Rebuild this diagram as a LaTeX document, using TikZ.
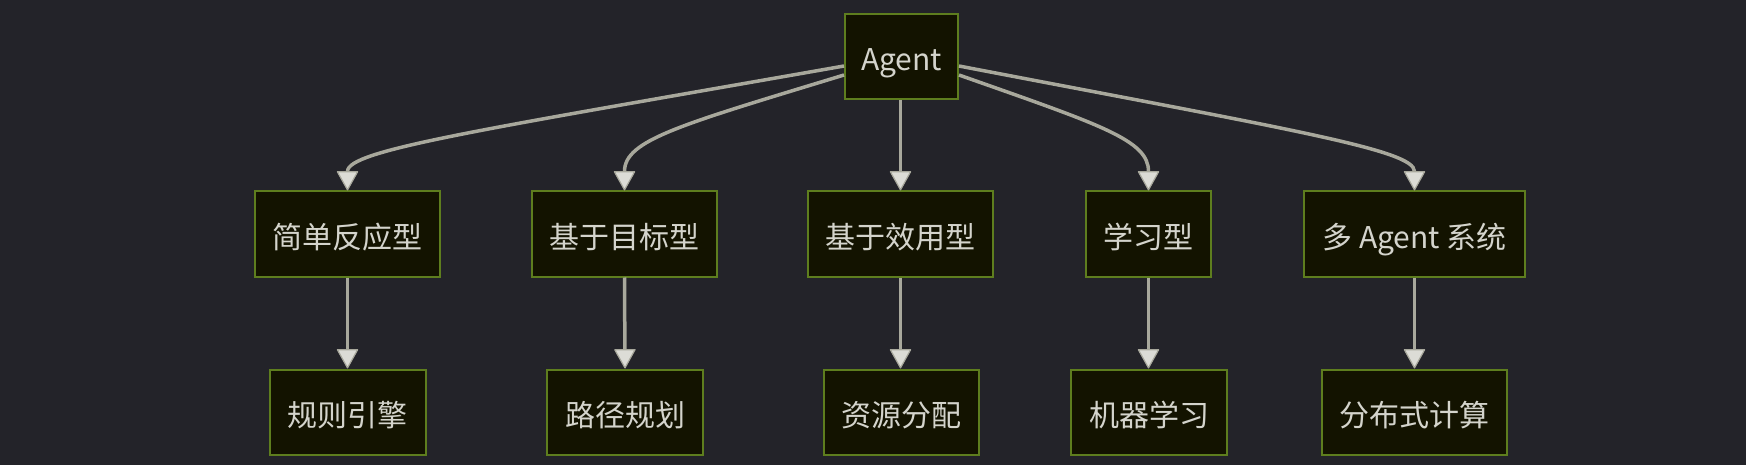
\documentclass[tikz,border=0pt]{standalone}
\usepackage{fontspec}
\setmainfont{Noto Sans CJK SC}
\usetikzlibrary{arrows.meta}
\definecolor{bgc}{HTML}{232329}
\definecolor{boxfill}{HTML}{131300}
\definecolor{boxline}{HTML}{5E7E1E}
\definecolor{txtc}{HTML}{D4D4CC}
\definecolor{linec}{HTML}{A8A89C}
\definecolor{arrowfill}{HTML}{DCDCD6}
\tikzset{
  box/.style={draw=boxline, fill=boxfill, line width=2pt, text=txtc,
    font=\fontsize{30}{36}\selectfont, inner sep=0pt, minimum height=85pt,
    text height=31pt, text depth=3pt},
  edge/.style={draw=linec, line width=3.5pt,
    -{Triangle[width=22pt,length=20pt,line width=1.2pt,fill=arrowfill,round]}}
}
\begin{document}
\begin{tikzpicture}[x=1pt,y=-1pt]
\fill[bgc] (0,0) rectangle (1746,465);
\useasboundingbox (0,0) rectangle (1746,465);
\node[box, minimum width=113pt] (agent) at (901.5,57) {Agent};
\node[box, minimum width=185pt] (n1) at (347.5,234) {简单反应型};
\node[box, minimum width=185pt] (n2) at (624.5,234) {基于目标型};
\node[box, minimum width=185pt] (n3) at (900.5,234) {基于效用型};
\node[box, minimum width=125pt] (n4) at (1148.5,234) {学习型};
\node[box, minimum width=221pt] (n5) at (1414.5,234) {多 Agent 系统};
\node[box, minimum width=156pt] (m1) at (347.5,412) {规则引擎};
\node[box, minimum width=156pt] (m2) at (625,412) {路径规划};
\node[box, minimum width=155pt] (m3) at (901.5,412) {资源分配};
\node[box, minimum width=156pt] (m4) at (1149,412) {机器学习};
\node[box, minimum width=185pt] (m5) at (1414.5,412) {分布式计算};
\draw[edge] ([yshift=-9pt]agent.west) .. controls (480,130) and (347.5,150) .. (n1.north);
\draw[edge] ([yshift=-18pt]agent.west) .. controls (680,125) and (624.5,140) .. (n2.north);
\draw[edge] (agent.south -| n3.north) -- (n3.north);
\draw[edge] ([yshift=-18pt]agent.east) .. controls (1101,125) and (1148.5,140) .. (n4.north);
\draw[edge] ([yshift=-9pt]agent.east) .. controls (1293,130) and (1414.5,150) .. (n5.north);
\draw[edge] (n1.south) -- (m1.north);
\draw[edge] (n2.south) -- (m2.north);
\draw[edge] (n3.south) -- (n3.south |- m3.north);
\draw[edge] (n4.south) -- (n4.south |- m4.north);
\draw[edge] (n5.south) -- (m5.north);
\end{tikzpicture}
\end{document}
